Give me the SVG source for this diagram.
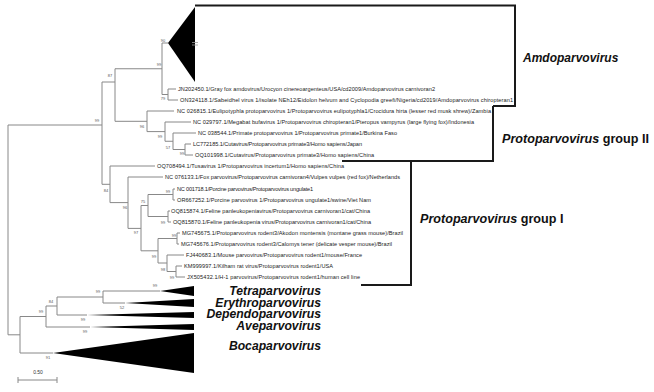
<svg xmlns="http://www.w3.org/2000/svg" width="654" height="392" viewBox="0 0 654 392">
<style>
.br{stroke:#888;stroke-width:1;fill:none}
.tri{fill:#000;stroke:none}
.bk{stroke:#1a1a1a;stroke-width:2;fill:none}
.tip{font-family:"Liberation Sans",Arial,sans-serif;font-size:5.6px;fill:#222}
.bs{font-family:"Liberation Sans",Arial,sans-serif;font-size:4px;fill:#555;text-anchor:middle}
.cl{font-family:"Liberation Sans",Arial,sans-serif;font-size:12.2px;font-weight:bold;font-style:italic;fill:#111;text-anchor:end}
.gl{font-family:"Liberation Sans",Arial,sans-serif;font-size:12.6px;font-weight:bold;fill:#111}
</style>
<rect width="654" height="392" fill="#fff"/>
<g id="connectors">
<path class="br" d="M162,43V94.5M162,43H168M162,94.5H168M168,89V100M168,89H176M168,100H178"/>
<path class="br" d="M115,68.75V121.3M115,68.75H162M115,121.3H147"/>
<path class="br" d="M147,111V131.6M147,111H174M147,131.6H165M165,122V141.25M165,122H191M165,141.25H173M173,133V149.5M173,133H196M173,149.5H185M185,144V155M185,144H191M185,155H193"/>
<path class="br" d="M102,82V184.3M102,82H115M102,184.3H110"/>
<path class="br" d="M110,166V202.6M110,166H155M110,202.6H128M128,177V228.4M128,177H163M128,228.4H141M141,205.5V250.8M141,205.5H148M141,250.8H158M148,194.5V216.5M148,194.5H173M148,216.5H168M173,189V200M173,189H175M173,200H175M168,211V222M168,211H170M168,222H171"/>
<path class="br" d="M158,238.5V263M158,238.5H177M158,263H167M177,233V244M177,233H180M177,244H179M167,255V271.5M167,255H184M167,271.5H176M176,266V277M176,266H182M176,277H185"/>
<path class="br" d="M103,291V303M103,291H160M103,303H125M57,297V315M57,297H103M57,315H87M46,306V327M46,306H57M46,327H90M20,316.5V353M20,316.5H46M20,353H53M8,125V334.8M8,125H102M8,334.8H20"/>
<path class="br" d="M18,380H57M18,377V383M57,377V383"/>
</g>
<g id="brackets">
<path class="bk" d="M195,5.5H515V106H493"/>
<path class="bk" d="M493,106V161H342"/>
<path class="bk" d="M411,161V285H361"/>
</g>
<g id="clade-amdo">
<polygon class="tri" points="168,43 195,7 195,82"/>
<path d="M192,42.5H198M192,45H198" stroke="#999" stroke-width="0.8"/>
</g>
<g id="clade-tetra"><polygon class="tri" points="160,291 194,286 194,296"/></g>
<g id="clade-erythro"><polygon class="tri" points="125,303 194,299 194,307"/></g>
<g id="clade-dependo"><polygon class="tri" points="87,315 194,312 194,318"/></g>
<g id="clade-ave"><polygon class="tri" points="90,327 194,324 194,330"/></g>
<g id="clade-boca"><polygon class="tri" points="53,353 194,333 194,373"/></g>
<g id="tips">
<text class="tip" x="178" y="91" textLength="257">JN202450.1/Gray fox amdovirus/Urocyon cinereoargenteus/USA/cd2009/Amdoparvovirus carnivoran2</text>
<text class="tip" x="180" y="102" textLength="333">ON324118.1/Sabeidhel virus 1/isolate NEh12/Eidolon helvum and Cyclopodia greefi/Nigeria/cd2019/Amdoparvovirus chiropteran1</text>
<text class="tip" x="177" y="113" textLength="314">NC 026815.1/Eulipotyphla protoparvovirus 1/Protoparvovirus eulipotyphla1/Crocidura hirta (lesser red musk shrew)/Zambia</text>
<text class="tip" x="193" y="124" textLength="281">NC 029797.1/Megabat bufavirus 1/Protoparvovirus chiropteran1/Pteropus vampyrus (large flying fox)/Indonesia</text>
<text class="tip" x="198" y="135" textLength="199">NC 038544.1/Primate protoparvovirus 1/Protoparvovirus primate1/Burkina Faso</text>
<text class="tip" x="193" y="146" textLength="169">LC772185.1/Cutavirus/Protoparvovirus primate3/Homo sapiens/Japan</text>
<text class="tip" x="195" y="157" textLength="179">OQ101998.1/Cutavirus/Protoparvovirus primate3/Homo sapiens/China</text>
<text class="tip" x="157" y="168" textLength="187">OQ708494.1/Tusavirus 1/Protoparvovirus incertum1/Homo sapiens/China</text>
<text class="tip" x="165" y="179" textLength="235">NC 076133.1/Fox parvovirus/Protoparvovirus carnivoran4/Vulpes vulpes (red fox)/Netherlands</text>
<text class="tip" x="177" y="191" textLength="136">NC 001718.1/Porcine parvovirus/Protoparvovirus ungulate1</text>
<text class="tip" x="177" y="202" textLength="194">OR667252.1/Porcine parvovirus 1/Protoparvovirus ungulate1/swine/Viet Nam</text>
<text class="tip" x="171" y="213" textLength="199">OQ815874.1/Feline panleukopeniavirus/Protoparvovirus carnivoran1/cat/China</text>
<text class="tip" x="173" y="224" textLength="198">OQ815870.1/Feline panleukopenia virus/Protoparvovirus carnivoran1/cat/China</text>
<text class="tip" x="182" y="235" textLength="221">MG745675.1/Protoparvovirus rodent3/Akodon montensis (montane grass mouse)/Brazil</text>
<text class="tip" x="181" y="246" textLength="211">MG745676.1/Protoparvovirus rodent3/Calomys tener (delicate vesper mouse)/Brazil</text>
<text class="tip" x="186" y="257" textLength="176">FJ440683.1/Mouse parvovirus/Protoparvovirus rodent1/mouse/France</text>
<text class="tip" x="184" y="268" textLength="149">KM999997.1/Kilham rat virus/Protoparvovirus rodent1/USA</text>
<text class="tip" x="187" y="279" textLength="173">JX505432.1/H-1 parvovirus/Protoparvovirus rodent1/human cell line</text>
</g>
<g id="support">
<text class="bs" x="163" y="42">90</text>
<text class="bs" x="159" y="66">99</text>
<text class="bs" x="163" y="100">79</text>
<text class="bs" x="110" y="77">87</text>
<text class="bs" x="97" y="122">99</text>
<text class="bs" x="142" y="128">96</text>
<text class="bs" x="160" y="138">99</text>
<text class="bs" x="168" y="149">57</text>
<text class="bs" x="182" y="155">99</text>
<text class="bs" x="106" y="192">84</text>
<text class="bs" x="168" y="193">99</text>
<text class="bs" x="143" y="203">75</text>
<text class="bs" x="125" y="209">96</text>
<text class="bs" x="163" y="224">99</text>
<text class="bs" x="136" y="234">97</text>
<text class="bs" x="174" y="237">99</text>
<text class="bs" x="154" y="258">99</text>
<text class="bs" x="163" y="271">98</text>
<text class="bs" x="172" y="279">99</text>
<text class="bs" x="155" y="287">99</text>
<text class="bs" x="98" y="293">99</text>
<text class="bs" x="122" y="309">52</text>
<text class="bs" x="51" y="303">84</text>
<text class="bs" x="83" y="321">99</text>
<text class="bs" x="41" y="313">99</text>
<text class="bs" x="85" y="333">99</text>
<text class="bs" x="48" y="359">91</text>
</g>
<g id="labels">
<text x="523" y="62" style="font-family:'Liberation Sans',Arial,sans-serif;font-size:12px;font-weight:bold;font-style:italic;fill:#111">Amdoparvovirus</text>
<text class="gl" x="502" y="142.5"><tspan font-style="italic">Protoparvovirus</tspan> group II</text>
<text class="gl" x="420" y="222.5"><tspan font-style="italic">Protoparvovirus</tspan> group I</text>
<text class="cl" x="321" y="294.5">Tetraparvovirus</text>
<text class="cl" x="321" y="306.5">Erythroparvovirus</text>
<text class="cl" x="321" y="317.5">Dependoparvovirus</text>
<text class="cl" x="321" y="329.5">Aveparvovirus</text>
<text class="cl" x="321" y="349.5">Bocaparvovirus</text>
<text x="38" y="374" style="font-family:'Liberation Sans',Arial,sans-serif;font-size:5px;fill:#333;text-anchor:middle">0.50</text>
</g>
</svg>
